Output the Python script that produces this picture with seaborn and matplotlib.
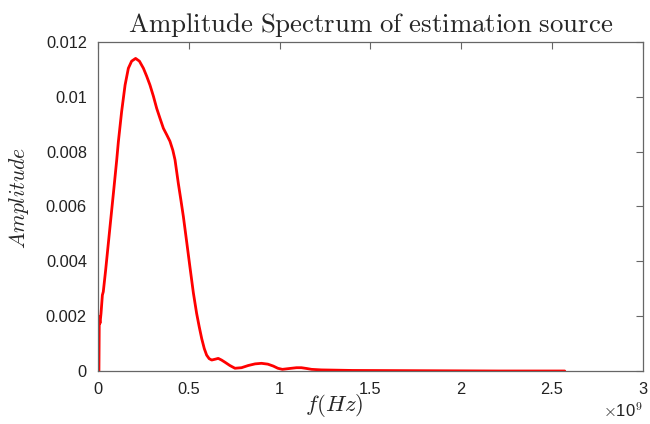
import numpy as np
import pandas as pd
import seaborn as sns
import matplotlib
matplotlib.use("Agg")
import matplotlib.pyplot as plt
from matplotlib.ticker import FuncFormatter, FixedLocator

# Frequency in units of 1e9 Hz, amplitude
freq_ghz = [0.0, 0.005, 0.007, 0.011, 0.0165, 0.024, 0.029, 0.042, 0.066, 0.085,
            0.103, 0.112, 0.130, 0.149, 0.167, 0.185, 0.207, 0.228, 0.25, 0.268,
            0.286, 0.305, 0.323, 0.341, 0.36, 0.378, 0.396, 0.412, 0.424, 0.442,
            0.456, 0.470, 0.488, 0.506, 0.525, 0.543, 0.557, 0.571, 0.585, 0.598,
            0.612, 0.626, 0.645, 0.662, 0.68, 0.699, 0.726, 0.754, 0.79, 0.827,
            0.865, 0.9, 0.935, 0.965, 0.99, 1.015, 1.04, 1.066, 1.093, 1.12,
            1.15, 1.176, 1.23, 1.4, 1.8, 2.2, 2.57]
amplitude = [0.0, 0.0, 0.00198, 0.00174, 0.0021, 0.00277, 0.00289, 0.00368, 0.00526, 0.0065,
             0.0077, 0.00836, 0.00946, 0.01043, 0.01104, 0.0113, 0.0114, 0.0113, 0.01104, 0.01075,
             0.01043, 0.01002, 0.00958, 0.00922, 0.00885, 0.00862, 0.00838, 0.00805, 0.0077, 0.00685,
             0.00625, 0.00563, 0.00472, 0.0038, 0.00285, 0.0021, 0.00162, 0.00118, 0.00082, 0.00058,
             0.00045, 0.0004, 0.00043, 0.00046, 0.0004, 0.00032, 0.0002, 0.0001, 0.00012, 0.0002,
             0.00026, 0.00028, 0.00025, 0.00018, 0.0001, 0.00006, 0.00008, 0.0001, 0.00012, 0.00012,
             0.00009, 0.00006, 0.00004, 0.00002, 0.00001, 0.0, 0.0]
x_ticks = [0, 0.5, 1, 1.5, 2, 2.5, 3]
y_ticks = [0, 0.002, 0.004, 0.006, 0.008, 0.01, 0.012]
y_tick_labels = ["0", "0.002", "0.004", "0.006", "0.008", "0.01", "0.012"]

df = pd.DataFrame({"f": np.array(freq_ghz) * 1e9, "A": amplitude})

sns.set_theme(style="white")
plt.rcParams["font.family"] = ["Liberation Sans", "DejaVu Sans"]
plt.rcParams["mathtext.fontset"] = "cm"

fig = plt.figure(figsize=(6.5, 4.24), dpi=100)
ax = fig.add_axes([0.1508, 0.125, 0.8382, 0.776])
sns.lineplot(data=df, x="f", y="A", color="#ff0000", linewidth=2.0, ax=ax)
for ln in ax.get_lines():
    ln.set_solid_joinstyle("round")
    ln.set_solid_capstyle("round")

ax.set_xlim(0, 3e9)
ax.set_ylim(0, 0.012)
ax.xaxis.set_major_locator(FixedLocator([t * 1e9 for t in x_ticks]))
ax.xaxis.set_major_formatter(FuncFormatter(lambda v, p: f"{v/1e9:g}"))
ax.set_yticks(y_ticks)
ax.set_yticklabels(y_tick_labels)

for s in ax.spines.values():
    s.set_visible(True)
    s.set_color("#666666")
    s.set_linewidth(0.9)
ax.tick_params(direction="in", length=5, width=0.8, color="#666666",
               top=True, right=True, labelsize=11.8, labelcolor="#222222", pad=8)

ax.set_title(r"$\mathrm{Amplitude\ Spectrum\ of\ estimation\ source}$", fontsize=19.3, pad=7)
ax.set_xlabel(r"$f(Hz)$", fontsize=16.5)
ax.xaxis.set_label_coords(0.433, -0.064)
ax.set_ylabel(r"$Amplitude$", fontsize=15.5)
ax.yaxis.set_label_coords(-0.123, 0.526)
fig.text(0.988, 0.009, r"$\times$10$^{9}$", ha="right", va="bottom", fontsize=12, color="#222222")

fig.savefig("out.png", dpi=100, facecolor="white")
